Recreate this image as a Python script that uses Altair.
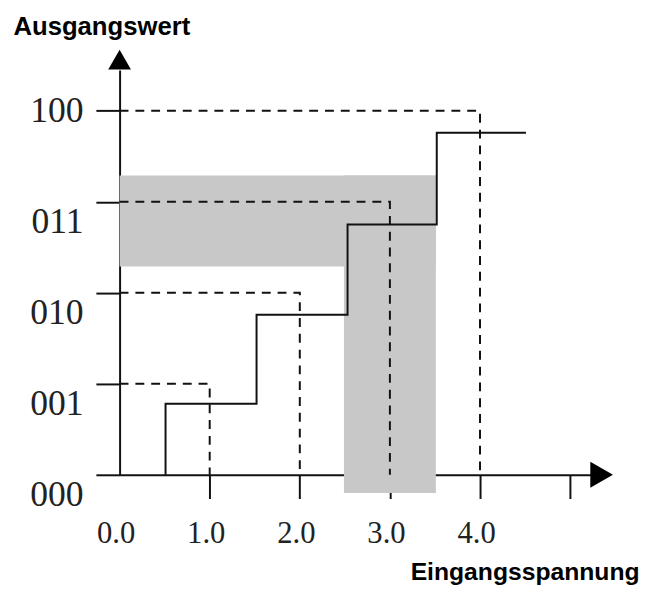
import altair as alt
import pandas as pd

# Step characteristic of the quantiser (input voltage -> output code level)
step_x = [0.51, 1.52, 2.53, 3.52, 4.51]
step_y = [0.0, 0.78, 1.76, 2.75, 3.76]

# Ideal code points (dashed guides): code k reached at input k
codes = [1, 2, 3, 4]

# Axis labels
code_labels = ["000", "001", "010", "011", "100"]
y_tick_values = [0, 1, 2, 3, 4]
x_tick_values = [0, 1, 2, 3, 4, 5]
x_tick_labels = ["0.0", "1.0", "2.0", "3.0", "4.0", ""]

# Shaded L-shaped region (two overlapping rectangles)
band_x1 = [0.0, 2.49]
band_x2 = [3.51, 3.51]
band_y1 = [2.29, -0.2]
band_y2 = [3.29, 3.29]

# Axis extents and arrow heads
x_max = 5.25
y_max = 4.45
arrow_x = [5.35, 0.0]
arrow_y = [0.0, 4.563]
arrow_shape = ["triangle-right", "triangle-up"]
arrow_size = [700, 530]

INK = "#111111"

step_df = pd.DataFrame({"x": step_x, "y": step_y})

dash_rows = []
for k in codes:
    for i, (px, py) in enumerate([(0, k), (k, k), (k, 0)]):
        dash_rows.append({"code": k, "i": i, "x": px, "y": py})
dash_df = pd.DataFrame(dash_rows)

band_df = pd.DataFrame({"x1": band_x1, "x2": band_x2, "y1": band_y1, "y2": band_y2})
arrow_df = pd.DataFrame({"x": arrow_x, "y": arrow_y, "shape": arrow_shape, "size": arrow_size})

x_scale = alt.Scale(domain=[0, x_max], nice=False, zero=False)
y_scale = alt.Scale(domain=[0, y_max], nice=False, zero=False)

x_label_expr = "[" + ",".join("'%s'" % s for s in x_tick_labels) + "][datum.value]"
y_label_expr = "[" + ",".join("'%s'" % s for s in code_labels) + "][datum.value]"

x_axis = alt.Axis(
    values=x_tick_values,
    labelExpr=x_label_expr,
    grid=False,
    domain=True, domainColor=INK, domainWidth=2,
    ticks=True, tickSize=24, tickWidth=2, tickColor=INK,
    tickOpacity={"condition": {"test": "datum.value == 0", "value": 0}, "value": 1},
    labelFont="Liberation Serif", labelFontSize=31, labelColor="#222222",
    labelPadding=21, labelOffset=-4, labelFlush=False, labelOverlap=False,
    title="Eingangsspannung", titleFont="Liberation Sans", titleFontSize=25,
    titleFontWeight="bold", titleColor="#000000", titleAlign="right",
    titleBaseline="alphabetic", titleAngle=0, titleX=526, titleY=106,
)

y_axis = alt.Axis(
    values=y_tick_values,
    labelExpr=y_label_expr,
    grid=False,
    domain=True, domainColor=INK, domainWidth=2,
    ticks=True, tickSize=24, tickWidth=2, tickColor=INK,
    labelFont="Liberation Serif", labelFontSize=36, labelColor="#222222",
    labelPadding=13, labelBaseline="middle", labelFlush=False, labelOverlap=False,
    labelOffset={"condition": {"test": "datum.value == 4", "value": 0}, "value": 20},
    title="Ausgangswert", titleFont="Liberation Sans", titleFontSize=26,
    titleFontWeight="bold", titleColor="#000000", titleAlign="left",
    titleBaseline="alphabetic", titleAngle=0, titleX=-108, titleY=-36,
)

bands = alt.Chart(band_df).mark_rect(color="#c8c8c8", stroke=None).encode(
    x=alt.X("x1:Q", scale=x_scale, axis=x_axis),
    x2="x2:Q",
    y=alt.Y("y1:Q", scale=y_scale, axis=y_axis),
    y2="y2:Q",
)

dashes = alt.Chart(dash_df).mark_line(
    color=INK, strokeWidth=2, strokeDash=[9, 7], strokeCap="butt"
).encode(
    x=alt.X("x:Q", scale=x_scale),
    y=alt.Y("y:Q", scale=y_scale),
    detail="code:N",
    order="i:Q",
)

step = alt.Chart(step_df).mark_line(
    color=INK, strokeWidth=2, interpolate="step-before"
).encode(
    x=alt.X("x:Q", scale=x_scale),
    y=alt.Y("y:Q", scale=y_scale),
)

arrows = alt.Chart(arrow_df).mark_point(filled=True, color="#000000", opacity=1).encode(
    x=alt.X("x:Q", scale=x_scale),
    y=alt.Y("y:Q", scale=y_scale),
    shape=alt.Shape("shape:N", scale=None),
    size=alt.Size("size:Q", scale=None),
)

chart = alt.layer(bands, dashes, step, arrows).properties(
    width=479,
    height=410,
    autosize=alt.AutoSizeParams(type="none"),
    padding={"left": 113, "top": 59, "right": 51, "bottom": 115},
).configure_view(stroke=None)

chart.save("out.html", embed_options={"renderer": "svg", "actions": False})
